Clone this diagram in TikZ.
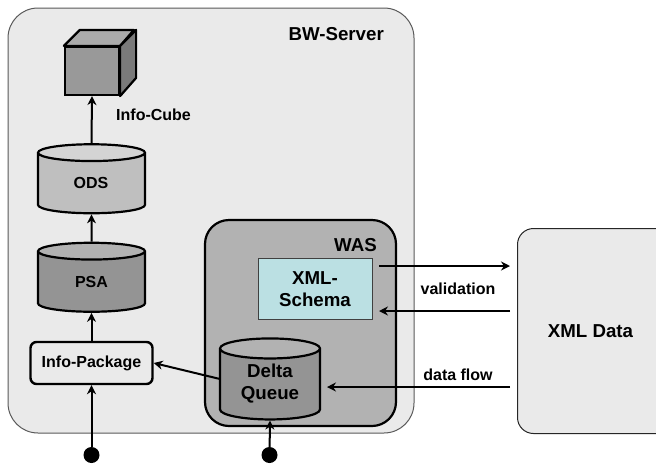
\documentclass[tikz,border=0pt]{standalone}
\usepackage{fontspec}
\setmainfont{Liberation Sans}
\usetikzlibrary{shapes.geometric,arrows.meta}
\definecolor{paneGray}{HTML}{EAEAEA}
\definecolor{wasGray}{HTML}{B2B2B2}
\definecolor{schemaBlue}{HTML}{BBE0E3}
\newcommand{\storebox}[1]{\phantom{\rule{#1}{#1}}}
\begin{document}
\begin{tikzpicture}[
  x=1pt, y=-1pt,
  lbl/.style={font=\bfseries\fontsize{16}{19}\selectfont, align=center, inner sep=0pt},
  biglbl/.style={font=\bfseries\fontsize{18.7}{22}\selectfont, align=center, inner sep=0pt},
  pane/.style={rectangle, draw=black!65, fill=paneGray, line width=1pt, rounded corners=30pt, inner sep=0pt},
  store/.style={cylinder, shape border rotate=90, aspect=0.7, draw, line width=2.2pt, cylinder uses custom fill, inner sep=0pt, minimum width=107pt},
  flow/.style={-{Stealth[length=9pt,width=9pt]}, line width=2pt},
  pin/.style={circle, fill=black, inner sep=0pt, minimum size=16pt}
]
\useasboundingbox (0,0) rectangle (656,464);

% containers
\node[pane, minimum width=406pt, minimum height=425pt] (server) at (211,220.5) {};
\node[biglbl, anchor=east] (servertitle) at (384,34) {BW-Server};
\node[pane, draw=black!85, rounded corners=16pt, minimum width=170pt, minimum height=205pt, anchor=north west] (xml) at (517,228) {};
\node[biglbl] (xmltitle) at (590.5,331) {XML Data};
\node[rectangle, draw, line width=2.2pt, fill=wasGray, rounded corners=24pt, minimum width=191pt, minimum height=206pt] (was) at (300.5,323) {};
\node[biglbl, anchor=east] (wastitle) at (377,245) {WAS};

% left column
\node[rectangle, draw, line width=2.2pt, fill=black!40, minimum width=54pt, minimum height=48pt] (cube) at (92,71) {};
\draw[line width=2.2pt, fill=black!33, line join=round] (cube.north west) -- ++(16,-16) -- ++(54,0) -- (cube.north east) -- cycle;
\draw[line width=2.2pt, fill=black!52, line join=round] (cube.north east) -- ++(16,-16) -- ++(0,48) -- (cube.south east) -- cycle;
\node[lbl, anchor=west] (cubetitle) at (116,115) {Info-Cube};
\node[store, cylinder body fill=black!25, cylinder end fill=black!17, minimum height=69pt] (ods) at (91.5,183.5) {\storebox{24pt}};
\node[lbl] (odstitle) at (91,183) {ODS};
\node[store, cylinder body fill=black!42, cylinder end fill=black!30, minimum height=69pt] (psa) at (91.5,282) {\storebox{24pt}};
\node[lbl] (psatitle) at (91.5,282) {PSA};
\node[rectangle, draw, line width=2.4pt, fill=paneGray, rounded corners=6pt, minimum width=122pt, minimum height=42pt, lbl] (package) at (91.5,363) {Info-Package};

% WAS content
\node[rectangle, draw=black!75, line width=0.7pt, fill=schemaBlue, minimum width=114pt, minimum height=61pt, biglbl] (schema) at (315,289) {XML-\\Schema};
\node[store, cylinder body fill=black!42, cylinder end fill=black!30, minimum width=100pt, minimum height=81pt] (queue) at (270,384.5) {\storebox{28.6pt}};
\node[biglbl] (queuetitle) at (270,384) {Delta\\Queue};

% end points
\node[pin] (pinA) at (91.5,455) {};
\node[pin] (pinB) at (269.5,455) {};
\coordinate (schemaOut) at (379,266);
\coordinate (xmlOut) at (510,266);
\coordinate (xmlIn) at (510,311);
\coordinate (schemaIn) at (379,311);
\coordinate (dataOut) at (510,387);
\coordinate (dataIn) at (327,387);
\coordinate (queueOut) at (220,379);

% connectors
\draw[flow] (ods.north) -- (cube.south);
\draw[flow] (psa.north) -- (ods.south);
\draw[flow] (package.north) -- (psa.south);
\draw[flow] (pinA) -- (package.south);
\draw[flow] (pinB) -- (queue.south);
\draw[flow] (queueOut) -- (package.east);
\draw[flow] (schemaOut) -- (xmlOut);
\draw[flow] (xmlIn) -- (schemaIn);
\draw[flow] (dataOut) -- (dataIn);

\node[lbl] (validationlbl) at (458,289) {validation};
\node[lbl] (flowlbl) at (458,375) {data flow};
\end{tikzpicture}
\end{document}
